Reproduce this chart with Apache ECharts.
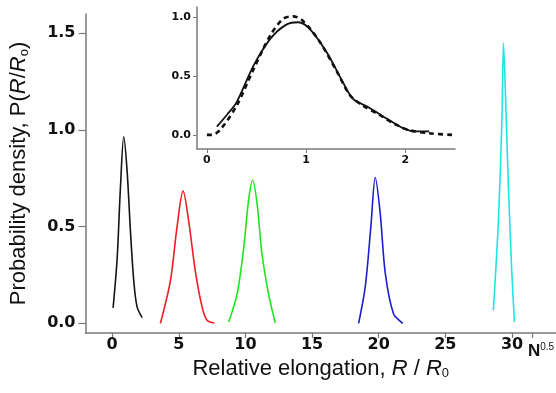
<!DOCTYPE html>
<html>
<head>
<meta charset="utf-8">
<script src="https://cdn.jsdelivr.net/npm/echarts@6/dist/echarts.min.js"></script>
<style>
html, body { margin: 0; padding: 0; background: #fff; }
#chart { width: 556px; height: 393px; }
</style>
</head>
<body>
<div id="chart"></div>
<script>
// main panel: one peak per chain length, [R/R0, P]
var blackCurve = [[0.07,0.08],[0.37,0.33],[0.62,0.70],[0.87,0.965],[1.12,0.79],[1.37,0.48],[1.62,0.22],[1.87,0.085],[2.25,0.03]];
var redCurve = [[3.62,0.0],[4.37,0.22],[4.87,0.50],[5.32,0.685],[5.74,0.53],[6.24,0.27],[6.75,0.084],[7.12,0.016],[7.67,0.002]];
var greenCurve = [[8.74,0.007],[9.37,0.15],[9.87,0.39],[10.24,0.64],[10.54,0.74],[10.87,0.62],[11.24,0.36],[11.74,0.15],[12.24,0.002]];
var blueCurve = [[18.49,0.0],[18.99,0.19],[19.41,0.50],[19.74,0.754],[20.11,0.57],[20.49,0.26],[21.11,0.05],[21.81,0.0]];
var cyanCurve = [[28.6,0.067],[28.98,0.53],[29.24,1.05],[29.36,1.45],[29.53,1.14],[29.73,0.705],[29.98,0.27],[30.18,0.007]];

// inset
var insetSolid = [[0.10,0.07],[0.20,0.17],[0.30,0.28],[0.47,0.59],[0.64,0.82],[0.80,0.94],[0.92,0.96],[1.04,0.90],[1.21,0.70],[1.37,0.45],[1.47,0.31],[1.64,0.23],[1.81,0.14],[1.98,0.056],[2.10,0.03],[2.24,0.03]];
var insetDashed = [[0,0],[0.05,0],[0.13,0.04],[0.30,0.25],[0.47,0.56],[0.64,0.85],[0.77,0.99],[0.87,1.01],[0.97,0.97],[1.14,0.79],[1.31,0.54],[1.44,0.34],[1.57,0.25],[1.74,0.17],[1.91,0.085],[2.04,0.04],[2.24,0.014],[2.48,0.0]];

var mainXTicks = [0, 5, 10, 15, 20, 25, 30];
var mainYTicks = [0, 0.5, 1, 1.5];
var insetXTicks = [0, 1, 2];
var insetYTicks = [0, 0.5, 1];

var axisGray = '#7a7a7a';
var tickFont = 'DejaVu Sans';
var titleFont = 'Liberation Sans, Arial, sans-serif';

var chart = echarts.init(document.getElementById('chart'), null, {renderer: 'canvas'});

function line(name, data, color, xi, extra) {
	var s = {
		name: name,
		type: 'line',
		xAxisIndex: xi,
		yAxisIndex: xi,
		data: data,
		smooth: 0.3,
		showSymbol: false,
		symbol: 'none',
		animation: false,
		lineStyle: {color: color, width: 1.6}
	};
	if (extra) s.lineStyle = Object.assign(s.lineStyle, extra);
	return s;
}

var titleRich = {
	a: {fontSize: 22, fontFamily: titleFont, color: '#111'},
	i: {fontSize: 22, fontFamily: titleFont, fontStyle: 'italic', color: '#111'},
	s: {fontSize: 13, fontFamily: titleFont, color: '#111', padding: [10, 0, 0, 0]}
};

var option = {
	backgroundColor: '#fff',
	animation: false,
	grid: [
		{left: 85, top: 14, right: 0, bottom: 60},
		{left: 197, top: 7, width: 258, height: 142}
	],
	xAxis: [{
		gridIndex: 0,
		type: 'value',
		min: -2,
		max: 33.3,
		splitLine: {show: false},
		axisLine: {onZero: false, lineStyle: {color: axisGray, width: 1.5}},
		axisTick: {length: 5, customValues: mainXTicks.concat([31.5]), lineStyle: {color: axisGray, width: 1.2}},
		axisLabel: {customValues: mainXTicks, margin: 4, color: '#111', fontSize: 16, fontWeight: 'bold', fontFamily: tickFont},
		name: '{a|Relative elongation, }{i|R}{a| / }{i|R}{s|0}',
		nameLocation: 'middle',
		nameGap: 23,
		nameTextStyle: {rich: titleRich}
	}, {
		gridIndex: 1,
		type: 'value',
		min: -0.1,
		max: 2.5,
		splitLine: {show: false},
		axisLine: {onZero: false, lineStyle: {color: axisGray, width: 1.5}},
		axisTick: {length: 4, customValues: insetXTicks, lineStyle: {color: axisGray}},
		axisLabel: {customValues: insetXTicks, margin: 6, color: '#111', fontSize: 11, fontWeight: 'bold', fontFamily: tickFont}
	}],
	yAxis: [{
		gridIndex: 0,
		type: 'value',
		min: -0.05,
		max: 1.6,
		splitLine: {show: false},
		axisLine: {show: true, onZero: false, lineStyle: {color: axisGray, width: 1.5}},
		axisTick: {show: true, length: 7, customValues: mainYTicks, lineStyle: {color: axisGray, width: 1.2}},
		axisLabel: {customValues: mainYTicks, margin: 10, color: '#111', fontSize: 16, fontWeight: 'bold', fontFamily: tickFont,
			formatter: function(v) { return v.toFixed(1); }},
		name: '{a|Probability density, P(}{i|R}{a|/}{i|R}{s|o}{a|)}',
		nameLocation: 'middle',
		nameGap: 55,
		nameTextStyle: {rich: titleRich}
	}, {
		gridIndex: 1,
		type: 'value',
		min: -0.12,
		max: 1.09,
		splitLine: {show: false},
		axisLine: {show: true, onZero: false, lineStyle: {color: axisGray, width: 1.5}},
		axisTick: {show: true, length: 4, customValues: insetYTicks, lineStyle: {color: axisGray}},
		axisLabel: {customValues: insetYTicks, margin: 6, color: '#111', fontSize: 11, fontWeight: 'bold', fontFamily: tickFont,
			formatter: function(v) { return v.toFixed(1); }}
	}],
	graphic: [{
		type: 'text',
		left: 528,
		top: 342,
		style: {
			text: '{n|N}{p|0.5}',
			rich: {
				n: {fontSize: 17, fontWeight: 'bold', fontFamily: titleFont, fill: '#111'},
				p: {fontSize: 10, fontFamily: titleFont, fill: '#111', padding: [0, 0, 9, 0]}
			}
		}
	}],
	series: [
		line('black', blackCurve, '#141414', 0),
		line('red', redCurve, '#ee1c24', 0),
		line('green', greenCurve, '#1ee61e', 0),
		line('blue', blueCurve, '#1c1cd0', 0),
		line('cyan', cyanCurve, '#1ee6e6', 0),
		line('inset fit', insetSolid, '#111', 1, {width: 1.8}),
		line('inset data', insetDashed, '#111', 1, {width: 2.6, type: [5, 4]})
	]
};

chart.setOption(option);
</script>
</body>
</html>
